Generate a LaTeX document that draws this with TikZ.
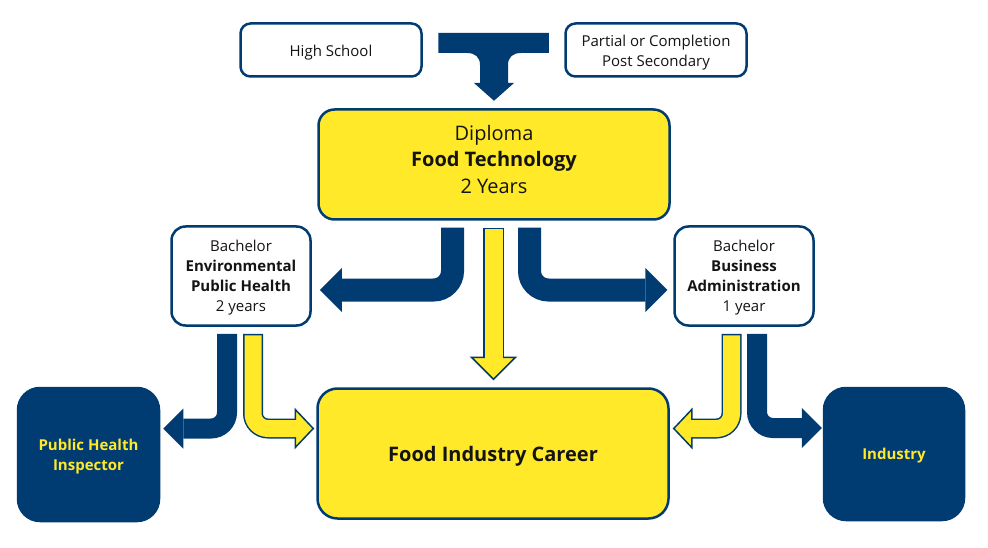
\documentclass[tikz,border=0pt]{standalone}
\usepackage{fontspec}
\setmainfont{Open Sans}
\usetikzlibrary{calc}
\definecolor{navy}{RGB}{0,59,114}
\definecolor{yel}{RGB}{255,233,41}
\definecolor{txt}{RGB}{20,20,20}
\begin{document}
\begin{tikzpicture}[x=1pt,y=-1pt,
  box/.style={draw=navy, line width=2.5pt, inner sep=0pt},
  wbox/.style={box, fill=white, rounded corners=10pt},
  ybox/.style={box, fill=yel, rounded corners=16pt},
  nbox/.style={box, fill=navy, rounded corners=22pt},
  lab/.style={align=center, inner sep=0pt, text=txt},
  smalltext/.style={lab, font=\fontsize{15}{20}\selectfont},
  bigtext/.style={lab, font=\fontsize{20}{26.5}\selectfont},
  navytext/.style={lab, text=yel, font=\fontsize{15}{20.7}\selectfont\bfseries},
  navyarrow/.style={draw=navy, line width=#1},
  ystem/.style={draw=yel, line width=#1},
  yhead/.style={fill=yel, draw=navy, line width=1.5pt, line join=miter}
]
\fill[white] (0,0) rectangle (988,548);
\useasboundingbox (0,0) rectangle (988,548);

% nodes
\node[wbox, minimum width=181, minimum height=53,
  label={[smalltext, yshift=-3pt]center:{High School}}] (hs) at (331,50) {};
\node[wbox, minimum width=181, minimum height=53,
  label={[smalltext, yshift=-3pt]center:{Partial or Completion\\Post Secondary}}] (pc) at (656,50) {};
\node[ybox, minimum width=351, minimum height=110,
  label={[bigtext, yshift=5pt]center:{Diploma\\\textbf{Food Technology}\\2 Years}}] (dip) at (494,164.5) {};
\node[wbox, rounded corners=14pt, minimum width=139, minimum height=99,
  label={[smalltext, yshift=-2pt]center:{Bachelor\\\textbf{Environmental}\\\textbf{Public Health}\\2 years}}] (eph) at (241,276) {};
\node[wbox, rounded corners=14pt, minimum width=139, minimum height=99,
  label={[smalltext, yshift=-2pt]center:{Bachelor\\\textbf{Business}\\\textbf{Administration}\\1 year}}] (ba) at (744,276) {};
\node[ybox, rounded corners=20pt, minimum width=351, minimum height=130,
  label={[bigtext, font=\fontsize{20}{26}\selectfont\bfseries, yshift=-3pt]center:{Food Industry Career}}] (fic) at (493,453.5) {};
\node[nbox, minimum width=141, minimum height=133,
  label={[navytext, yshift=-2pt]center:{Public Health\\Inspector}}] (phi) at (88.5,454.5) {};
\node[nbox, minimum width=140, minimum height=132,
  label={[navytext, yshift=-2pt]center:{Industry}}] (ind) at (894,454) {};

% merging arrow from the two top boxes into the diploma
\coordinate (tl) at ($(hs.east)+(15.5,-7)$);
\coordinate (tr) at ($(pc.west)+(-15.5,-7)$);
\coordinate (tt) at ($(dip.north)+(0,-7.5)$);
\fill[navy] (tl |- 0,33) -- (tr |- 0,33) -- (tr |- 0,53) -- (521,53)
  .. controls (513,53) and (508,57) .. (508,65) -- (508,83) -- (514,83) -- (tt)
  -- (474,83) -- (480,83) -- (480,65) .. controls (480,57) and (475,53) .. (467,53)
  -- (tl |- 0,53) -- cycle;

% A: diploma -> EPH (navy)
\coordinate (As) at ($(dip.south)+(-41.5,7)$);
\coordinate (At) at ($(eph.east)+(8,14)$);
\coordinate (Ab) at ($(At)+(22,0)$);
\draw[navyarrow=23pt, rounded corners=19pt] (As) |- (Ab);
\fill[navy] (At) -- ($(Ab)+(0,-22)$) -- ($(Ab)+(0,22)$) -- cycle;

% B: diploma -> BA (navy)
\coordinate (Bs) at ($(dip.south)+(35.5,7)$);
\coordinate (Bt) at ($(ba.west)+(-6,14)$);
\coordinate (Bb) at ($(Bt)+(-22,0)$);
\draw[navyarrow=23pt, rounded corners=19pt] (Bs) |- (Bb);
\fill[navy] (Bt) -- ($(Bb)+(0,-22)$) -- ($(Bb)+(0,22)$) -- cycle;

% M: diploma -> food industry career (yellow)
\coordinate (Ms) at ($(dip.south)+(-0.5,7)$);
\coordinate (Mt) at ($(fic.north)+(0.5,-8)$);
\coordinate (Mb) at ($(Mt)+(0,-22)$);
\draw[navyarrow=21pt] (Ms) -- (Mb);
\filldraw[yhead] (Mt) -- ($(Mb)+(-22,0)$) -- ($(Mb)+(22,0)$) -- cycle;
\draw[ystem=18pt] ($(Ms)+(0,1.5)$) -- ($(Mb)+(0,2)$);

% C: EPH -> public health inspector (navy)
\coordinate (Cs) at ($(eph.south)+(-14,7)$);
\coordinate (Ct) at ($(phi.east)+(3,-26)$);
\coordinate (Cb) at ($(Ct)+(20,0)$);
\draw[navyarrow=20pt, rounded corners=16pt] (Cs) |- (Cb);
\fill[navy] (Ct) -- ($(Cb)+(0,-20)$) -- ($(Cb)+(0,20)$) -- cycle;

% Y: EPH -> food industry career (yellow)
\coordinate (Ys) at ($(eph.south)+(12,7)$);
\coordinate (Yt) at ($(fic.west)+(-3,-25)$);
\coordinate (Yb) at ($(Yt)+(-18,0)$);
\draw[navyarrow=20pt, rounded corners=15pt] (Ys) |- (Yb);
\filldraw[yhead] (Yt) -- ($(Yb)+(0,-19)$) -- ($(Yb)+(0,19)$) -- cycle;
\draw[ystem=17pt, rounded corners=15pt] ($(Ys)+(0,1.5)$) |- ($(Yb)+(2,0)$);

% D: BA -> food industry career (yellow)
\coordinate (Ds) at ($(ba.south)+(-12.5,7)$);
\coordinate (Dt) at ($(fic.east)+(4,-25)$);
\coordinate (Db) at ($(Dt)+(18,0)$);
\draw[navyarrow=20pt, rounded corners=15pt] (Ds) |- (Db);
\filldraw[yhead] (Dt) -- ($(Db)+(0,-19)$) -- ($(Db)+(0,19)$) -- cycle;
\draw[ystem=17pt, rounded corners=15pt] ($(Ds)+(0,1.5)$) |- ($(Db)+(-2,0)$);

% E: BA -> industry (navy)
\coordinate (Es) at ($(ba.south)+(13,7)$);
\coordinate (Et) at ($(ind.west)+(-1,-26)$);
\coordinate (Eb) at ($(Et)+(-20,0)$);
\draw[navyarrow=20pt, rounded corners=16pt] (Es) |- (Eb);
\fill[navy] (Et) -- ($(Eb)+(0,-20)$) -- ($(Eb)+(0,20)$) -- cycle;
\end{tikzpicture}
\end{document}
